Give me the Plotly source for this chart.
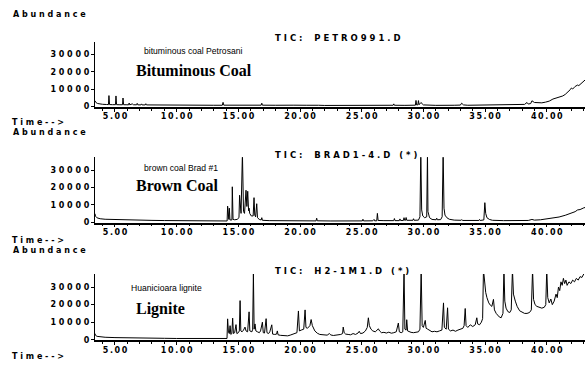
import plotly.graph_objects as go

W, H = 585, 365

# ---------------- data (retention time in min, abundance) ----------------
bit_time = [3.38, 3.45, 3.6, 3.8, 4.0, 4.3, 4.47, 4.51, 4.56, 4.8, 5.04, 5.08, 5.13, 5.4,
            5.61, 5.65, 5.7, 5.9, 6.1, 6.15, 6.2, 6.4, 6.5, 6.75, 6.8, 6.85, 7.1, 7.15, 7.2,
            7.45, 7.5, 7.55, 8.0, 9.0, 9.2, 9.3, 10.0, 11.0, 12.0, 13.0, 13.7, 13.76, 13.82,
            14.5, 15.5, 16.85, 16.9, 16.95, 18.0, 19.0, 19.2, 19.5, 20.5, 21.0, 21.3, 21.5,
            22.0, 24.0, 26.0, 27.55, 27.6, 27.65, 28.5, 29.0, 29.35, 29.4, 29.45, 29.55, 29.6,
            29.65, 29.8, 30.0, 30.3, 31.0, 32.5, 33.0, 33.1, 33.25, 33.6, 35.0, 36.0, 37.0,
            37.8, 38.2, 38.4, 38.5, 38.7, 38.8, 39.0, 39.3, 39.6, 39.9, 40.2, 40.5, 40.7, 40.9,
            41.1, 41.3, 41.5, 41.7, 41.9, 42.0, 42.1, 42.3, 42.5, 42.6, 42.8, 43.0, 43.1]
bit_abund = [3200, 2200, 1600, 1300, 1150, 1050, 1000, 6200, 1000, 950, 950, 6000, 950, 900,
             900, 4800, 900, 900, 850, 1900, 850, 1400, 900, 850, 1700, 850, 800, 1400, 800,
             800, 1500, 800, 750, 650, 900, 650, 650, 600, 650, 600, 600, 2300, 650,
             600, 650, 650, 1800, 650, 600, 700, 1000, 650, 600, 700, 900, 600,
             500, 600, 550, 600, 1400, 600, 550, 600, 650, 3400, 800, 800, 3300,
             900, 2200, 800, 600, 550, 600, 700, 1800, 800, 600, 700, 800, 900,
             1000, 1100, 2200, 1300, 1600, 3200, 2200, 1900, 2000, 2400, 3000, 4200, 4700, 4800,
             5400, 6000, 6900, 8000, 9600, 10600, 10000, 11500, 12300, 12000, 13500, 14800, 15200]

brown_time = [3.38, 3.42, 3.55, 3.8, 4.2, 5.0, 6.0, 7.0, 8.0, 9.0, 10.0, 11.0, 12.0, 13.0, 13.8,
              14.09, 14.13, 14.18, 14.23, 14.27, 14.32, 14.48, 14.51, 14.57, 14.7, 14.9, 15.05,
              15.1, 15.17, 15.22, 15.33, 15.42, 15.5, 15.62, 15.69, 15.76, 15.83, 15.87, 15.92,
              16.05, 16.2, 16.27, 16.33, 16.4, 16.49, 16.55, 16.7, 16.85, 16.9, 16.95, 17.5,
              18.5, 19.5, 20.5, 21.3, 21.35, 21.4, 22.5, 24.0, 25.05, 25.1, 25.15, 25.9, 26.0,
              26.05, 26.22, 26.27, 26.33, 26.8, 27.6, 27.65, 27.7, 28.05, 28.1, 28.15, 28.38,
              28.43, 28.48, 28.55, 28.6, 28.65, 28.9, 29.15, 29.2, 29.25, 29.6, 29.72, 29.79,
              29.86, 29.95, 30.1, 30.27, 30.33, 30.37, 30.42, 30.5, 30.7, 31.03, 31.08, 31.13,
              31.4, 31.52, 31.6, 31.67, 31.75, 31.9, 32.1, 32.5, 33.05, 33.1, 33.2, 33.8, 34.5,
              34.55, 34.6, 34.9, 34.98, 35.05, 35.15, 35.35, 35.6, 36.5, 37.5, 38.5, 38.8, 39.0,
              39.5, 40.0, 40.5, 41.0, 41.5, 42.0, 42.3, 42.5, 42.7, 43.0, 43.1]
brown_abund = [4800, 3400, 2400, 1900, 1600, 1400, 1200, 1050, 950, 850, 750, 700, 650, 600, 600,
               600, 9200, 1500, 1500, 8000, 1200, 1200, 20400, 1500, 1300, 1500, 2500,
               15500, 6000, 5000, 40000, 6000, 5000, 18400, 9000, 17800, 6500, 8000, 5000,
               3500, 3500, 14100, 4000, 3000, 10600, 2500, 1500, 1200, 2500, 1000, 800,
               700, 650, 650, 650, 2200, 700, 600, 600, 650, 1600, 650, 700, 1500,
               700, 700, 5000, 900, 800, 800, 2000, 800, 800, 1800, 900, 900,
               2500, 1000, 1000, 2600, 1000, 1000, 1000, 1900, 1000, 1100, 3000, 40000,
               7000, 3500, 2500, 3000, 40000, 6000, 5000, 2500, 1500, 1300, 2200, 1300,
               1400, 3000, 40000, 8000, 4000, 2500, 1600, 1100, 1000, 1300, 900, 900, 900,
               1500, 900, 1200, 11200, 5000, 2500, 1500, 1000, 800, 800, 900, 1500, 1100,
               1300, 1800, 2200, 2900, 3900, 5200, 6000, 7000, 7200, 8200, 8400]

lig_time = [3.38, 3.42, 3.55, 3.8, 4.2, 5.0, 6.0, 7.0, 8.0, 9.0, 10.0, 11.0, 12.0, 13.0, 13.8,
            14.08, 14.13, 14.2, 14.27, 14.33, 14.39, 14.47, 14.54, 14.6, 14.7, 14.81, 14.88,
            15.0, 15.08, 15.14, 15.2, 15.3, 15.42, 15.54, 15.62, 15.75, 15.87, 15.93, 16.1,
            16.16, 16.22, 16.28, 16.35, 16.42, 16.55, 16.7, 16.8, 16.95, 17.02, 17.12, 17.25,
            17.32, 17.45, 17.55, 17.71, 17.78, 17.95, 18.1, 18.16, 18.22, 18.4, 18.6, 18.8,
            19.0, 19.2, 19.4, 19.6, 19.75, 19.87, 19.95, 20.1, 20.3, 20.41, 20.48, 20.6, 20.8,
            20.9, 21.0, 21.2, 21.4, 21.6, 21.8, 22.0, 22.2, 22.38, 22.5, 22.7, 22.9, 23.1,
            23.3, 23.45, 23.5, 23.58, 23.7, 23.9, 24.1, 24.3, 24.5, 24.7, 24.8, 24.9, 25.1,
            25.3, 25.45, 25.54, 25.62, 25.75, 25.9, 26.1, 26.25, 26.35, 26.45, 26.6, 26.8,
            27.0, 27.2, 27.4, 27.6, 27.8, 27.97, 28.05, 28.2, 28.33, 28.43, 28.5, 28.6, 28.65,
            28.72, 28.85, 29.0, 29.2, 29.4, 29.6, 29.72, 29.82, 29.9, 30.0, 30.15, 30.22,
            30.35, 30.5, 30.7, 30.9, 31.1, 31.3, 31.5, 31.63, 31.7, 31.85, 31.96, 32.03, 32.2,
            32.4, 32.6, 32.8, 33.0, 33.2, 33.3, 33.39, 33.46, 33.6, 33.8, 34.0, 34.2, 34.33,
            34.4, 34.55, 34.7, 34.8, 34.87, 34.95, 35.05, 35.15, 35.3, 35.45, 35.55, 35.68,
            35.76, 35.9, 36.0, 36.15, 36.3, 36.45, 36.53, 36.6, 36.7, 36.85, 37.0, 37.12,
            37.22, 37.3, 37.45, 37.6, 37.8, 38.0, 38.2, 38.4, 38.6, 38.75, 38.85, 38.93, 39.05,
            39.2, 39.4, 39.6, 39.8, 39.92, 40.0, 40.08, 40.2, 40.33, 40.45, 40.6, 40.75, 40.85,
            40.95, 41.05, 41.15, 41.25, 41.35, 41.45, 41.55, 41.65, 41.8, 41.95, 42.1, 42.25,
            42.4, 42.55, 42.7, 42.85, 43.0, 43.1]
lig_abund = [3500, 2500, 1900, 1600, 1400, 1200, 1000, 900, 850, 800, 700, 650, 600, 600, 600,
             700, 11900, 4000, 3500, 8000, 3000, 3500, 12300, 3500, 4000, 8600, 3500,
             4000, 5000, 22300, 5000, 4500, 5500, 7200, 5000, 4500, 15900, 5000, 4500,
             6000, 38000, 6000, 9000, 5000, 4500, 4000, 5000, 10000, 4000, 3800, 12000,
             4000, 3500, 4500, 8500, 3200, 3000, 3200, 5000, 2800, 2500, 2300, 2500,
             2200, 2600, 3000, 3500, 4000, 16400, 5000, 5500, 6000, 17000, 7000, 6500, 8000,
             11500, 8000, 5000, 3700, 3000, 2800, 2700, 2600, 3500, 2700, 2400, 2600, 2500,
             3000, 3500, 7200, 4000, 3200, 3000, 2800, 3500, 3000, 3800, 4800, 3500, 3800,
             5000, 7000, 12500, 8000, 6000, 5000, 4500, 5500, 6200, 5000, 4000, 4200,
             3800, 4300, 3700, 4000, 4500, 9500, 4500, 4000, 4500, 40000, 6000, 5500, 11400,
             5000, 4500, 4200, 4000, 4300, 4500, 6000, 40000, 8000, 7000, 11000, 6500,
             6000, 5500, 4500, 4800, 4500, 5000, 5500, 21000, 7000, 6000, 18200, 6000, 5000,
             5500, 4800, 5500, 6000, 6500, 8000, 17800, 8000, 7000, 8500, 7500, 8500, 12500,
             9000, 8500, 10000, 12000, 40000, 32000, 27000, 24000, 21000, 19500, 19000, 23000,
             17000, 15000, 14000, 13000, 12500, 15000, 40000, 22000, 18000, 16000, 15500, 17000,
             40000, 26000, 22000, 19000, 16500, 15500, 15000, 15000, 15500, 17000, 40000, 23000, 20000,
             19000, 18500, 18000, 18500, 20000, 40000, 24000, 21000, 23200, 20000, 22000, 26000, 24000,
             30000, 28000, 33000, 31000, 35000, 32000, 34000, 31000, 33000, 32000, 34000, 33000,
             35000, 34000, 36000, 35500, 37500, 38000]

x_ticks = [5, 10, 15, 20, 25, 30, 35, 40]
x_tick_labels = ["5.00", "10.00", "15.00", "20.00", "25.00", "30.00", "35.00", "40.00"]
y_ticks = [0, 10000, 20000, 30000]
y_tick_labels = ["0", "10000", "20000", "30000"]

tic_names = ["TIC: PETRO991.D", "TIC: BRAD1-4.D (*)", "TIC: H2-1M1.D (*)"]
sample_names = ["bituminous coal Petrosani", "brown coal Brad #1", "Huanicioara lignite"]
coal_types = ["Bituminous Coal", "Brown Coal", "Lignite"]

# ---------------- layout helpers ----------------
def px(x):
    return x / W

def py(y):
    return 1 - y / H

def spaced(s, sep=" "):
    return sep.join(list(s))

THIN = "\u2009"
label_font = dict(family="DejaVu Sans", size=8, color="black", weight="bold")
tic_font = dict(family="DejaVu Sans", size=8.5, color="black", weight="bold")

series = [(bit_time, bit_abund), (brown_time, brown_abund), (lig_time, lig_abund)]
# pixel extents of each panel (top, bottom)
panel_px = [(42, 108), (159, 225), (277, 344)]
tic_y = [38, 157, 274]
small_y = [52, 170, 291]
big_y = [71, 188, 312]
small_x = [142, 142, 129]
big_x = [134, 134, 134]
abund_y = [15, 134, 253]
time_y = [124, 243, 360]

fig = go.Figure()
annotations = []
for i, ((t, v), (top, bot)) in enumerate(zip(series, panel_px)):
    n = "" if i == 0 else str(i + 1)
    fig.add_trace(go.Scatter(x=t, y=v, mode="lines",
                             line=dict(color="black", width=1),
                             xaxis="x" + n, yaxis="y" + n,
                             hoverinfo="skip", showlegend=False))
    fig.layout["xaxis" + n] = dict(
        domain=[px(95), 1.0], range=[3.38, 43.1], anchor="y" + n,
        showgrid=False, zeroline=False, showline=True, linecolor="black", linewidth=1.6,
        ticks="outside", ticklen=3, tickwidth=1, tickcolor="black",
        tickvals=x_ticks, ticktext=[spaced(s, THIN) for s in x_tick_labels],
        tickfont=label_font, ticklabelstandoff=-2,
        minor=dict(dtick=1, ticks="outside", ticklen=2, tickcolor="black", tickwidth=1),
    )
    fig.layout["yaxis" + n] = dict(
        domain=[py(bot), py(top)], range=[-300, 37500], anchor="x" + n,
        showgrid=False, zeroline=False, showline=True, linecolor="black", linewidth=1,
        ticks="outside", ticklen=3, tickcolor="black",
        tickvals=y_ticks, ticktext=[spaced(s) for s in y_tick_labels],
        tickfont=label_font,
    )
    annotations += [
        dict(text=spaced("Abundance"), x=px(11), y=py(abund_y[i]), xanchor="left",
             yanchor="middle", font=label_font),
        dict(text=spaced("Time-->"), x=px(10), y=py(time_y[i]), xanchor="left",
             yanchor="middle", font=label_font),
        dict(text=spaced(tic_names[i]).replace(":  ", ":   "), x=px(273), y=py(tic_y[i]),
             xanchor="left", yanchor="middle", font=tic_font),
        dict(text=sample_names[i], x=px(small_x[i]), y=py(small_y[i]), xanchor="left",
             yanchor="middle",
             font=dict(family="Liberation Sans", size=8.6, color="black")),
        dict(text=coal_types[i], x=px(big_x[i]), y=py(big_y[i]), xanchor="left",
             yanchor="middle",
             font=dict(family="Liberation Serif", size=16, color="black", weight="bold")),
    ]

for a in annotations:
    a.update(xref="paper", yref="paper", showarrow=False)

fig.update_layout(width=W, height=H, margin=dict(l=0, r=0, t=0, b=0),
                  paper_bgcolor="white", plot_bgcolor="white",
                  annotations=annotations)

fig.write_html("out.html", config={"displayModeBar": False},
               post_script="document.body.style.margin='0';"
                           "document.body.style.overflow='hidden';")
